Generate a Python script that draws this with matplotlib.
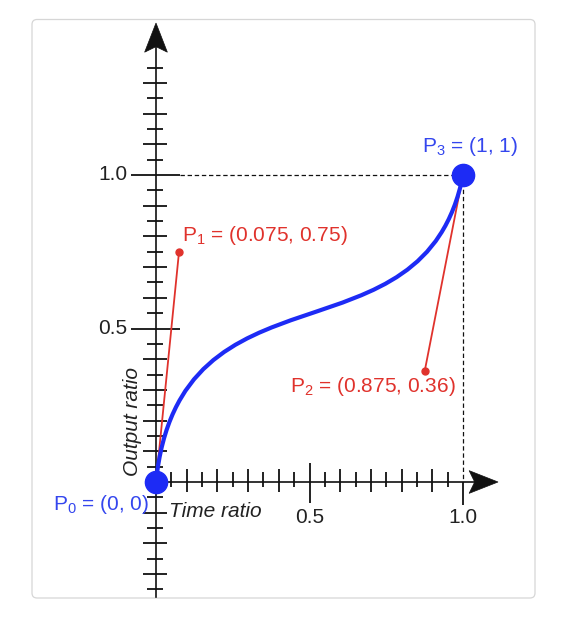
import numpy as np
import matplotlib
matplotlib.use("Agg")
import matplotlib.pyplot as plt
from matplotlib.path import Path
from matplotlib.patches import PathPatch, Polygon, FancyBboxPatch

# ---- data ----
control_x = [0.0, 0.075, 0.875, 1.0]
control_y = [0.0, 0.75, 0.36, 1.0]
point_labels = [r"P$_0$ = (0, 0)", r"P$_1$ = (0.075, 0.75)",
                r"P$_2$ = (0.875, 0.36)", r"P$_3$ = (1, 1)"]
x_tick_labels = ["0.5", "1.0"]
x_tick_label_pos = [0.5, 1.0]
y_tick_labels = ["0.5", "1.0"]
y_tick_label_pos = [0.5, 1.0]
x_label = "Time ratio"
y_label = "Output ratio"

plt.rcParams['font.family'] = ['Liberation Sans', 'DejaVu Sans']
plt.rcParams['mathtext.fontset'] = 'custom'
plt.rcParams['mathtext.rm'] = 'Liberation Sans'
plt.rcParams['mathtext.it'] = 'Liberation Sans:italic'

FS = 15
W, H = 585, 621
S = 307.0          # pixels per data unit
OX, OY = 156, 482  # origin in pixels from top-left

fig = plt.figure(figsize=(W / 100, H / 100), dpi=100)
ax = fig.add_axes([0, 0, 1, 1])
ax.set_xlim(-OX / S, (W - OX) / S)
ax.set_ylim(-(H - OY) / S, OY / S)
ax.axis('off')

def px(v):
    return v / S

BLUE = '#1d2bf5'
BLUE_T = '#3446ee'
RED = '#e0322c'
BLACK = '#111111'
TXT = '#222222'

# frame
frame = FancyBboxPatch((px(32 - OX), px(OY - 598)), px(535 - 32), px(598 - 19.5),
                       boxstyle=f"round,pad=0,rounding_size={px(5)}",
                       fc='white', ec='#d6d6d6', lw=0.9, zorder=0)
ax.add_patch(frame)

# axes lines
y_bottom, y_arrow_base, y_tip = -0.375, 1.40, 1.495
x_arrow_base, x_tip = 1.02, 1.114
ax.plot([0, 0], [y_bottom, y_arrow_base + 0.02], color=BLACK, lw=1.2, zorder=2)
ax.plot([0, x_arrow_base + 0.02], [0, 0], color=BLACK, lw=1.2, zorder=2)
hw = 0.037
ax.add_patch(Polygon([(0, y_tip), (-hw, y_arrow_base), (0, y_arrow_base + 0.018),
                      (hw, y_arrow_base)], closed=True, fc=BLACK, ec=BLACK, lw=0.5, zorder=3))
ax.add_patch(Polygon([(x_tip, 0), (x_arrow_base, hw), (x_arrow_base + 0.018, 0),
                      (x_arrow_base, -hw)], closed=True, fc=BLACK, ec=BLACK, lw=0.5, zorder=3))

# y ticks
yt = np.round(np.arange(-0.35, 1.3501, 0.05), 2)
for v in yt:
    if abs(v) < 1e-9:
        continue
    if abs(v - 0.5) < 1e-9 or abs(v - 1.0) < 1e-9:
        l, r = px(25), px(24)
    elif abs(round(v * 10) - v * 10) < 1e-6:
        l, r = px(13), px(11)
    else:
        l, r = px(9.3), px(7.3)
    ax.plot([-l, r], [v, v], color=BLACK, lw=1.3, zorder=2, solid_capstyle='butt')

# x ticks
xt = np.round(np.arange(0.05, 1.0001, 0.05), 2)
for v in xt:
    if abs(v - 0.5) < 1e-9:
        lo, hi = px(21), px(19)
    elif abs(v - 1.0) < 1e-9:
        lo, hi = px(23), 0
    elif abs(round(v * 10) - v * 10) < 1e-6:
        lo, hi = px(10), px(13)
    else:
        lo, hi = px(5), px(10)
    ax.plot([v, v], [-lo, hi], color=BLACK, lw=1.3, zorder=2, solid_capstyle='butt')

# dashed guides
P3x, P3y = control_x[3], control_y[3]
ax.plot([px(24), P3x], [P3y, P3y], color=BLACK, lw=0.9, ls=(0, (3.5, 2.2)), zorder=2)
ax.plot([P3x, P3x], [P3y, 0], color=BLACK, lw=0.9, ls=(0, (3.5, 2.2)), zorder=2)

# tick labels
for lab, v in zip(y_tick_labels, y_tick_label_pos):
    ax.text(-px(29), v, lab, ha='right', va='center', fontsize=FS, color=TXT)
for lab, v in zip(x_tick_labels, x_tick_label_pos):
    ax.text(v, -px(41), lab, ha='center', va='baseline', fontsize=FS, color=TXT)

# axis titles
ax.text(px(13), -px(35), x_label, ha='left', va='baseline', fontsize=FS,
        style='italic', color=TXT)
ax.text(-px(23), px(60), y_label, ha='center', va='center', rotation=90,
        fontsize=FS, style='italic', color=TXT)

# control handles
ax.plot([control_x[0], control_x[1]], [control_y[0], control_y[1]], color=RED, lw=1.3, zorder=4)
ax.plot([control_x[3], control_x[2]], [control_y[3], control_y[2]], color=RED, lw=1.3, zorder=4)
ax.plot([control_x[1], control_x[2]], [control_y[1], control_y[2]], ls='none',
        marker='o', ms=5, color=RED, zorder=5)

# bezier curve
verts = list(zip(control_x, control_y))
path = Path(verts, [Path.MOVETO, Path.CURVE4, Path.CURVE4, Path.CURVE4])
ax.add_patch(PathPatch(path, fill=False, ec=BLUE, lw=3, zorder=5, capstyle='round'))

# end points
ax.plot([control_x[0], control_x[3]], [control_y[0], control_y[3]], ls='none',
        marker='o', ms=16, color=BLUE, zorder=6)

# point labels (offsets in pixels)
offsets = [(-103, -28), (3, 11), (-135, -20.5), (-41, 23)]
colors = [BLUE_T, RED, RED, BLUE_T]
for lab, x, y, (dx, dy), c in zip(point_labels, control_x, control_y, offsets, colors):
    ax.annotate(lab, (x, y), xytext=(dx, dy), textcoords='offset pixels',
                ha='left', va='baseline', fontsize=FS, color=c, zorder=7)

fig.savefig("out.png", dpi=100, facecolor='white')
